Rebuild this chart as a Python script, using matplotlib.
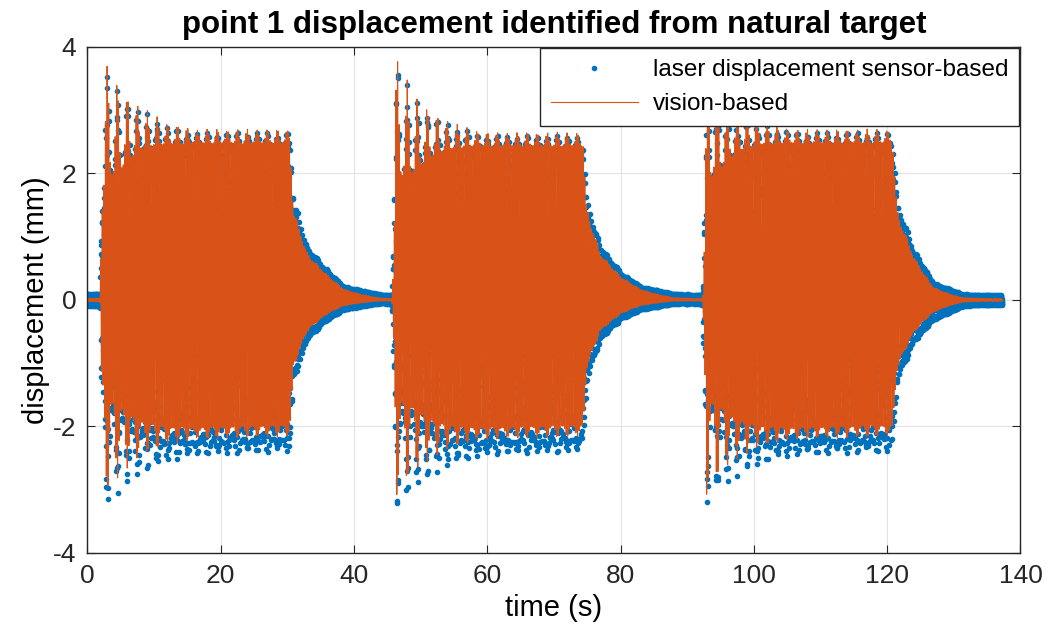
import numpy as np
import matplotlib
matplotlib.use("Agg")
import matplotlib.pyplot as plt

plt.rcParams['font.family'] = ['Liberation Sans', 'DejaVu Sans']
plt.rcParams['axes.unicode_minus'] = False

# envelope key points (time in s, displacement in mm)
t_key = [0, 1.9, 2.1, 2.6, 5, 8, 12, 16, 30.4, 30.9, 33, 36, 38.5, 43.5, 45.4,
         45.7, 46.3, 49, 52, 56, 60, 74.4, 74.9, 77, 80, 83, 88, 91.8,
         92.3, 92.9, 95, 98, 102, 106, 120.8, 121.5, 124, 127, 131.5, 135, 137.3]
laser_top = [0.1, 0.1, 2.5, 3.65, 3.3, 3.0, 2.75, 2.65, 2.65, 1.6, 0.85, 0.48, 0.22, 0.1, 0.08,
             0.1, 3.75, 3.2, 2.9, 2.7, 2.6, 2.6, 1.6, 0.85, 0.45, 0.22, 0.1, 0.08,
             0.1, 3.6, 3.3, 3.0, 2.75, 2.65, 2.65, 1.55, 0.8, 0.27, 0.09, 0.08, 0.08]
laser_bot = [-0.1, -0.1, -2.4, -3.35, -3.0, -2.75, -2.55, -2.45, -2.4, -1.3, -0.63, -0.32, -0.16, -0.06, -0.06,
             -0.1, -3.4, -3.0, -2.75, -2.55, -2.45, -2.4, -1.3, -0.63, -0.32, -0.16, -0.06, -0.06,
             -0.1, -3.3, -3.0, -2.75, -2.55, -2.45, -2.4, -1.3, -0.68, -0.32, -0.1, -0.08, -0.08]
# share of the spike height that the dense body of the signal reaches
body_ratio = [0.9, 0.9, 0.5, 0.5, 0.62, 0.78, 0.88, 0.92, 0.92, 0.93, 0.93, 0.93, 0.93, 0.93, 0.93,
              0.9, 0.5, 0.62, 0.78, 0.88, 0.92, 0.92, 0.93, 0.93, 0.93, 0.93, 0.93, 0.93,
              0.9, 0.5, 0.62, 0.78, 0.88, 0.92, 0.92, 0.93, 0.93, 0.93, 0.93, 0.93, 0.93]
# vision amplitude relative to the laser one
vis_top = [0.3, 0.3, 1.0, 1.04, 1.02, 1.02, 1.02, 1.02, 1.02, 0.92, 0.88, 0.85, 0.8, 0.4, 0.3,
           0.3, 1.03, 1.02, 1.02, 1.02, 1.02, 1.02, 0.92, 0.88, 0.85, 0.8, 0.4, 0.3,
           0.3, 1.04, 1.02, 1.02, 1.02, 1.02, 1.02, 0.92, 0.88, 0.75, 0.4, 0.3, 0.3]
vis_bot = [0.3, 0.3, 0.92, 0.93, 0.92, 0.9, 0.9, 0.9, 0.9, 0.85, 0.8, 0.72, 0.6, 0.35, 0.3,
           0.3, 0.93, 0.92, 0.9, 0.9, 0.9, 0.9, 0.85, 0.8, 0.72, 0.6, 0.35, 0.3,
           0.3, 0.96, 0.92, 0.9, 0.9, 0.9, 0.9, 0.85, 0.78, 0.62, 0.35, 0.3, 0.3]

carrier_hz = 4.13
beat_period = 1.5
laser_fs = 50.0
vision_fs = 100.0


def signal(t, ratio_top, ratio_bot):
    c = np.sin(2 * np.pi * carrier_hz * t)
    b = (0.5 + 0.5 * np.cos(2 * np.pi * t / beat_period)) ** 2
    r = np.interp(t, t_key, body_ratio)
    up = np.interp(t, t_key, laser_top) * np.interp(t, t_key, ratio_top)
    lo = -np.interp(t, t_key, laser_bot) * np.interp(t, t_key, ratio_bot)
    amp = np.where(c > 0, up, lo) * (r + (1 - r) * b)
    return c * amp


ones = [1.0] * len(t_key)
t_laser = np.arange(0, 137.3, 1 / laser_fs)
y_laser = signal(t_laser, ones, ones)
t_vis = np.arange(0, 137.3, 1 / vision_fs)
y_vis = signal(t_vis, vis_top, vis_bot)

fig = plt.figure(figsize=(10.52, 6.43), dpi=100)
ax = fig.add_axes([0.083, 0.14, 0.887, 0.787])
ax.plot(t_laser, y_laser, '.', color='#0072BD', markersize=6, label='laser displacement sensor-based')
ax.plot(t_vis, y_vis, '-', color='#D95319', linewidth=0.8, label='vision-based')

ax.set_xlim(0, 140)
ax.set_ylim(-4, 4)
ax.set_xticks(np.arange(0, 141, 20))
ax.set_yticks(np.arange(-4, 5, 2))
ax.grid(True, color='#e3e3e3', linewidth=0.8)
ax.set_axisbelow(True)
ax.tick_params(direction='in', top=True, right=True, labelsize=19, length=6, colors='#262626', pad=8)
for s in ax.spines.values():
    s.set_color('#262626')
    s.set_linewidth(1.0)

ax.set_xlabel('time (s)', fontsize=21, labelpad=4)
ax.set_ylabel('displacement (mm)', fontsize=21, labelpad=2)
ax.set_title('point 1 displacement identified from natural target', fontsize=22.5, fontweight='bold', pad=10)
leg = ax.legend(loc='upper right', fontsize=17.5, handlelength=3.6, borderaxespad=0.05,
                fancybox=False, framealpha=1, edgecolor='#262626', markerscale=1.0,
                handletextpad=0.6, borderpad=0.45, labelspacing=0.5)
leg.get_frame().set_linewidth(1.0)

fig.savefig('out.png', dpi=100)
